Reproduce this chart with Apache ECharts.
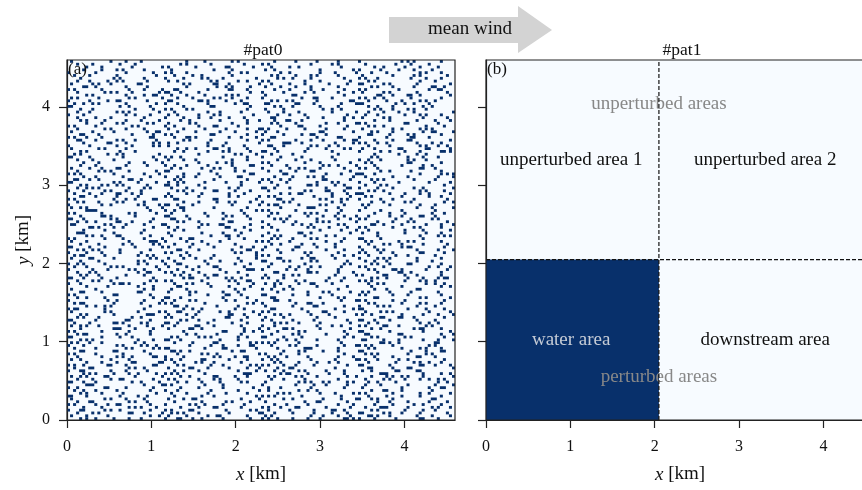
<!DOCTYPE html>
<html>
<head>
<meta charset="utf-8">
<script src="https://cdn.jsdelivr.net/npm/echarts@6/dist/echarts.min.js"></script>
<style>html,body{margin:0;padding:0;background:#fff}#c{width:862px;height:490px}</style>
</head>
<body>
<div id="c"></div>
<script>
// ---------------- data ----------------
const nCells = 128;            // cells per side of the pattern grid
const domainKm = 4.6;          // domain size in km
const axisTicks = [0, 1, 2, 3, 4];
const panelTitles = ['#pat0', '#pat1'];
const panelTags = ['(a)', '(b)'];
// #pat0: binary cover pattern (1 = water), rows from top (north) to bottom, hex-coded 128 cells per row (estimated)
const pat0Rows = [
"40021080010402800810204080 02a010","1080420005010020a000814020084100","021004014020 0c041048002004810820","0410a0402000820048001002 81042080",
"80401008a100045002401081 08400a10","2100800410480200 1410a04040102804","08014040820a10020520801 0a2004210","1104a020480140 90a002100414000840",
"40a201800280c4011042020 8c0a01002","0640102001004a08421080400a1020c8","a010084118020610084088 10a0040130","100a8402c41000088102404240a01004",
"0280104c21040a8040300010 0310c802","50200a010840a21080046100a4804010","8104c020601a084014a0200610420a40","24a010048802013060184021c0092100",
"c000481002018008 0a20104012100480","08800208a140001041000920 0510a200","1100a80210022040210801011 0842001","840012104810a00404420008 22010a10",
"1042004082110420180108124 0a00404","0a08108204802011 08c4001004201042","0210a02840a002101410044 1a0018020","a04005009010c080020c1008 14800208",
"100a104042040811a0820410 40120a80","40810026082021024400180 20a1004c1","0c200408a00180108104c400 1820a010","a210001811a0044218002060 80406100",
"1840a20402810010a0108813 0410c002","0406100a4802080101c400 82a2401090","8100840a400210203100a240 10200a24","4028100009 20c41008010414 44060302",
"0a00420012021408c4020100 8121081a","2804a00200100142102000400 4041200","c1002008a400101082040100 0a008420","108100044220021004108080 9100a200",
"04200841 00104a00a0021004 2800c010","084010209102020c10800a41 04020480","4110c0002408a100804a1010 a2000c40","102a0804c00101202210c004 01204010",
"a80100420210400c01800421 c4000815","044020108a2020c008214802 20108021","31200c8014008010a2400c04 0a802040","c00141044a04084110802140 84040102",
"0a14a020c81000400401a090 21400008","12a00850210404 80c840040c 82102401","840a10800a40c10820028610 14800a08","2110c48041080420024c0109 c0210902",
"0c408100a010048128004104 28020110","a001120c1800c0020620142 881102004","1420a040021045088140012 008814009","80120142c84002012c081410 50200840",
"4a00002106008010 0201c040 20001081","03c00010920000 42a0100420 81020040","a0100a042004102014 02a040 04210088","081a0200c1020a1020410891 10220c40",
"c40280083080100 80a802044 a00840a0","1240c4100a10060081102a01 0210a004","600a1041800a300820248050 0c820211","01a1200848100c2090014208 a0102810",
"04080040120001080400102110010402","1c01008040081040200c800442010210","0290c01020010c808a020480 0200082a","a008204104c004201420a010c1000400",
"4200081c81082002a04004202804a010","0820240a104201001204408010a20404","c108020140808044401820808402c008","14a040100c10021884200410 42801021",
"82104080a100014202028040a1100c08","2c08012804808002a00101121 0088040","4181001442210082 0604c08082a01010","08200141100420 40c140a008 24401080",
"940801208c02010810020014 0a20c010","2202a0044110c02020489020 a0800122","80840a420840201c80910040 141a0204","11400130a21008800c01a042 02064010",
"0a2010401484c01041280081 40c11010","c410800802c20a40a1000210 0a40842c","10a20014a008051804120420 a8010a40","8801684011420084 4a08c100 12800248",
"020401080c010408084020080802 0012","40400048210001209120004004401800","0c10018040a0108004010a04 50204020","a001801000820c40c0210100a0108010",
"12080008c40010101800105006000a02","8004804110a009020c400021a0110008","2c010082a00400148011880014020a10","024a001019004080 40206010 82a01040",
"b008004002480120180400 82c0008208","400a01028c102404a0010c10 21500102","0a01003841200621 0a408201 48020421","14200480a0400c104100208001862008",
"c040181005108040902040 08c4201040","2101a0a0c80202100a881004 12000920","4a200821103080408800212 0a0c40280","0801c20840c800212 1a01004 09002c10",
"a010081002001824840a0010 c0200402","16009010012040401028040 830060011","c010440028150090c1040012 0a014008","0a800108c40020800490204060840421",
"511002401040c00aa8080020 01a40060","8400a0a40081108c10502011 a8100140","2040140ac004180204038040 14020a10","0c01804034800260010a0840 c0004218",
"a0402010080a400142080010 2a008280","1010a40c8200a13028810042 04101840","48020800a40c041094008081 a2048008","0210860310288040 0a082240 10082910",
"a406100c0a01100aa1104008 c0200c42","21800a4040c2041104600080 1810c001","8c021020121000824 90a0410 480c1800","05410904a804003802c10210 01c00412",
"4a0c02010480c1102814200908528401","108260085010a08011020040 20a10928","c440048209082050400a8a0a12080024","03800041a004100080104408 21008041",
"900c10080410100422008010 40020118","244080108801008120092000 08c20080","0a10200421020810 05401082 a0100902","c20041201008800 2a8040020 10420810",
"400a104042600041012008218a1000c0","11800a2010080a08400230080 2208104","a044c01080a410200881004 204102410","04100a840410c040a2180404 21c080a2",
"8c0a4010a0c0080a2040419 00a010440","10a00c412a100401882041 08c0a20804","42040012410260105000884 41a201082","0a4108808c481008a421101a 84080c20"
];
// #pat1: water square at the lower-left corner (km)
const pat1WaterX = [0, 2.05];
const pat1WaterY = [0, 2.05];
// area labels of #pat1 (text, x km, y km)
const areaTexts = ['unperturbed areas', 'unperturbed area 1', 'unperturbed area 2', 'water area', 'downstream area', 'perturbed areas'];
const areaX = [2.05, 1.01, 3.31, 1.01, 3.31, 2.05];
const areaY = [4.04, 3.32, 3.32, 1.02, 1.02, 0.55];

// ---------------- styles ----------------
const FONT = "'Liberation Serif', 'DejaVu Serif', serif";
const WATER = '#08306b', LAND = '#f7fbff';
const areaColors = ['#888888', '#111111', '#111111', '#c6ccd6', '#111111', '#888888'];
const G = [{left: 67, top: 60, width: 388, height: 360}, {left: 486, top: 60, width: 388, height: 360}];

// ---------------- build cells (merged horizontal runs) ----------------
const cell = domainKm / nCells;
const pat0Cells = [];
pat0Rows.forEach((rowStr, r) => {
  const hex = rowStr.replace(/\s/g, '');
  const bits = [];
  for (let c = 0; c < nCells; c++) {
    const d = parseInt(hex[c >> 2] || '0', 16) || 0;
    bits.push((d >> (3 - (c & 3))) & 1);
  }
  const yIdx = nCells - 1 - r;
  let c = 0;
  while (c < nCells) {
    if (bits[c]) {
      let e = c;
      while (e + 1 < nCells && bits[e + 1]) e++;
      pat0Cells.push([c * cell, yIdx * cell, (e + 1) * cell, (yIdx + 1) * cell]);
      c = e + 1;
    } else c++;
  }
});
const pat1Cells = [[pat1WaterX[0], pat1WaterY[0], pat1WaterX[1], pat1WaterY[1]]];

function rectItem(params, api) {
  const p0 = api.coord([api.value(0), api.value(3)]);
  const p1 = api.coord([api.value(2), api.value(1)]);
  return {type: 'rect', shape: {x: p0[0], y: p0[1], width: p1[0] - p0[0], height: p1[1] - p0[1]},
          style: {fill: WATER}};
}

const nameStyle = {fontFamily: FONT, fontSize: 19, color: '#111',
  rich: {i: {fontStyle: 'italic', fontFamily: FONT, fontSize: 19, color: '#111'}}};
function xAxis(i) {
  return {
    type: 'value', gridIndex: i, min: 0, max: domainKm,
    splitLine: {show: false},
    axisLine: {show: true, onZero: false, lineStyle: {color: '#222', width: 1.2}},
    axisTick: {show: true, customValues: axisTicks, length: 8, lineStyle: {color: '#222', width: 1.2}},
    axisLabel: {customValues: axisTicks, margin: 19, fontFamily: FONT, fontSize: 16, color: '#111'},
    name: '{i|x} [km]', nameLocation: 'middle', nameGap: 45, nameTextStyle: nameStyle
  };
}
function yAxis(i) {
  return {
    type: 'value', gridIndex: i, min: 0, max: domainKm,
    splitLine: {show: false},
    axisLine: {show: true, onZero: false, lineStyle: {color: '#222', width: 1.2}},
    axisTick: {show: true, customValues: axisTicks, length: 8, lineStyle: {color: '#222', width: 1.2}},
    axisLabel: {show: i === 0, customValues: axisTicks, margin: 17, fontFamily: FONT, fontSize: 16, color: '#111'},
    name: i === 0 ? '{i|y} [km]' : '', nameLocation: 'middle', nameGap: 34, nameTextStyle: nameStyle
  };
}

const chart = echarts.init(document.getElementById('c'), null, {renderer: 'canvas'});
const graphics = [];
// arrow
graphics.push({type: 'polygon', z: 10,
  shape: {points: [[389, 17], [518, 17], [518, 6], [552, 30], [518, 53], [518, 43], [389, 43]]},
  style: {fill: '#d3d3d3'}});
graphics.push({type: 'text', x: 470, y: 29, z: 11,
  style: {text: 'mean wind', font: '19px ' + FONT, fill: '#111', align: 'center', verticalAlign: 'middle'}});
G.forEach((g, i) => {
  graphics.push({type: 'text', x: g.left + g.width / 2 + 2, y: 50, z: 11,
    style: {text: panelTitles[i], font: '17.5px ' + FONT, fill: '#111', align: 'center', verticalAlign: 'middle'}});
  graphics.push({type: 'rect', z: 20, silent: true,
    shape: {x: g.left, y: g.top, width: g.width, height: g.height},
    style: {fill: 'none', stroke: '#222', lineWidth: 1.2}});
  graphics.push({type: 'text', x: g.left + 1, y: g.top + 1, z: 21,
    style: {text: panelTags[i], font: '17px ' + FONT, fill: '#111', align: 'left', verticalAlign: 'top'}});
});

chart.setOption({
  animation: false,
  backgroundColor: '#fff',
  grid: G.map(g => Object.assign({show: true, backgroundColor: LAND, borderWidth: 0,
    containLabel: false, outerBoundsMode: 'none'}, g)),
  xAxis: [xAxis(0), xAxis(1)],
  yAxis: [yAxis(0), yAxis(1)],
  graphic: graphics,
  series: [
    {type: 'custom', xAxisIndex: 0, yAxisIndex: 0, clip: true, z: 2,
     encode: {x: [0, 2], y: [1, 3]}, renderItem: rectItem, data: pat0Cells},
    {type: 'custom', xAxisIndex: 1, yAxisIndex: 1, clip: true, z: 2,
     encode: {x: [0, 2], y: [1, 3]}, renderItem: rectItem, data: pat1Cells},
    {type: 'custom', xAxisIndex: 1, yAxisIndex: 1, clip: false, z: 3,
     encode: {x: 0, y: 1},
     data: areaTexts.map((t, i) => [areaX[i], areaY[i], i]),
     renderItem: function (params, api) {
       const p = api.coord([api.value(0), api.value(1)]);
       const k = api.value(2);
       return {type: 'text', x: p[0], y: p[1],
         style: {text: areaTexts[k], font: '19px ' + FONT, fill: areaColors[k], align: 'center', verticalAlign: 'middle'}};
     }},
    {type: 'line', xAxisIndex: 1, yAxisIndex: 1, z: 4, symbol: 'none', silent: true,
     lineStyle: {color: '#111', width: 1.2, type: [4, 2]},
     data: [[pat1WaterX[1], 0], [pat1WaterX[1], domainKm]]},
    {type: 'line', xAxisIndex: 1, yAxisIndex: 1, z: 4, symbol: 'none', silent: true,
     lineStyle: {color: '#111', width: 1.2, type: [4, 2]},
     data: [[0, pat1WaterY[1]], [domainKm, pat1WaterY[1]]]}
  ]
});
</script>
</body>
</html>
